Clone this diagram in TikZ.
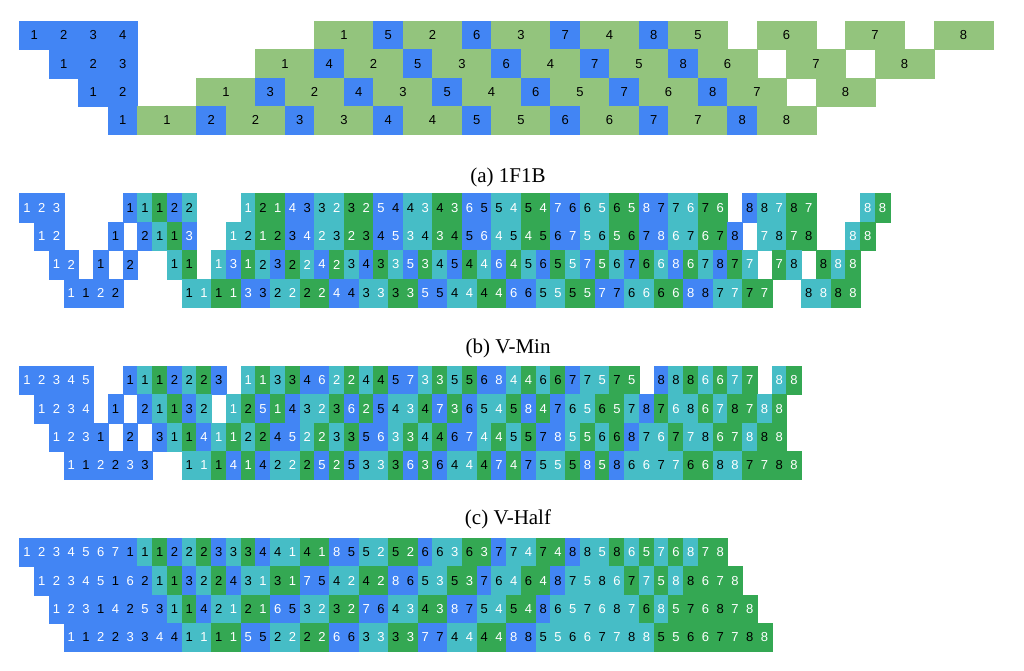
\documentclass[tikz,border=0pt]{standalone}
\usepackage{fontspec}
\setmainfont{Liberation Serif}
\setsansfont{Liberation Sans}
\usepackage{tikz}

\definecolor{fwdblue}{HTML}{4285F4}
\definecolor{bwdcyan}{HTML}{46BDC6}
\definecolor{wgtgreen}{HTML}{34A853}
\definecolor{lightgreen}{HTML}{93C47D}
\newcommand*{\gapcell}{-}

\begin{document}
\begin{tikzpicture}[x=1pt,y=-1pt]
  \tikzset{op/.style={anchor=north west, minimum height=28.4pt, inner sep=0pt, outer sep=0pt,
      line width=0.3pt, font=\sffamily\fontsize{13}{13}\selectfont}}
  \tikzset{onefF/.style={op, minimum width=29.5pt, fill=fwdblue, draw=fwdblue},
    onefB/.style={op, minimum width=59pt, fill=lightgreen, draw=lightgreen}}
  \tikzset{opF/.style={minimum width=14.75pt, fill=fwdblue, draw=fwdblue},
    opB/.style={minimum width=14.75pt, fill=bwdcyan, draw=bwdcyan},
    opW/.style={minimum width=14.75pt, fill=wgtgreen, draw=wgtgreen},
    txtw/.style={text=white}, txtk/.style={text=black}}
  \tikzset{caption/.style={font=\fontsize{21}{21}\selectfont}}
  \useasboundingbox (0,0) rectangle (1024,670);
  %1F1B
  \foreach \r/\row in {
      0/{0/F/1,1/F/2,2/F/3,3/F/4,10/B/1,12/F/5,13/B/2,15/F/6,16/B/3,18/F/7,19/B/4,21/F/8,22/B/5,25/B/6,28/B/7,31/B/8},
      1/{1/F/1,2/F/2,3/F/3,8/B/1,10/F/4,11/B/2,13/F/5,14/B/3,16/F/6,17/B/4,19/F/7,20/B/5,22/F/8,23/B/6,26/B/7,29/B/8},
      2/{2/F/1,3/F/2,6/B/1,8/F/3,9/B/2,11/F/4,12/B/3,14/F/5,15/B/4,17/F/6,18/B/5,20/F/7,21/B/6,23/F/8,24/B/7,27/B/8},
      3/{3/F/1,4/B/1,6/F/2,7/B/2,9/F/3,10/B/3,12/F/4,13/B/4,15/F/5,16/B/5,18/F/6,19/B/6,21/F/7,22/B/7,24/F/8,25/B/8}}
    \foreach \pos/\kind/\mb [count=\idx] in \row
      \node[onef\kind] (ofob\r-\idx) at ({19.5+\pos*29.5}, {21+\r*28.4}) {\mb};
  \node[caption] (capa) at (508,177) {(a) 1F1B};
  %V-Min
  \foreach \r/\row in {
      0/{F/1/w,F/2/w,F/3/w,-/-/-,-/-/-,-/-/-,-/-/-,F/1/k,B/1/k,W/1/k,F/2/k,B/2/k,-/-/-,-/-/-,-/-/-,B/1/w,W/2/k,W/1/w,F/4/w,F/3/k,B/3/k,B/2/w,W/3/k,W/2/w,F/5/w,F/4/k,B/4/k,B/3/w,W/4/k,W/3/w,F/6/w,F/5/k,B/5/k,B/4/w,W/5/k,W/4/w,F/7/w,F/6/k,B/6/k,B/5/w,W/6/k,W/5/w,F/8/w,F/7/k,B/7/k,B/6/w,W/7/k,W/6/w,-/-/-,F/8/k,B/8/k,B/7/w,W/8/k,W/7/w,-/-/-,-/-/-,-/-/-,B/8/w,W/8/w},
      1/{F/1/w,F/2/w,-/-/-,-/-/-,-/-/-,F/1/k,-/-/-,F/2/k,B/1/k,W/1/k,F/3/w,-/-/-,-/-/-,B/1/w,B/2/k,W/1/w,W/2/k,F/3/k,F/4/w,B/2/w,B/3/k,W/2/w,W/3/k,F/4/k,F/5/w,B/3/w,B/4/k,W/3/w,W/4/k,F/5/k,F/6/w,B/4/w,B/5/k,W/4/w,W/5/k,F/6/k,F/7/w,B/5/w,B/6/k,W/5/w,W/6/k,F/7/k,F/8/w,B/6/w,B/7/k,W/6/w,W/7/k,F/8/k,-/-/-,B/7/w,B/8/k,W/7/w,W/8/k,-/-/-,-/-/-,B/8/w,W/8/w},
      2/{F/1/w,F/2/w,-/-/-,F/1/k,-/-/-,F/2/k,-/-/-,-/-/-,B/1/k,W/1/k,-/-/-,B/1/w,F/3/w,W/1/w,B/2/k,F/3/k,W/2/k,B/2/w,F/4/w,W/2/w,B/3/k,F/4/k,W/3/k,B/3/w,F/5/w,W/3/w,B/4/k,F/5/k,W/4/k,B/4/w,F/6/w,W/4/w,B/5/k,F/6/k,W/5/k,B/5/w,F/7/w,W/5/w,B/6/k,F/7/k,W/6/k,B/6/w,F/8/w,W/6/w,B/7/k,F/8/k,W/7/k,B/7/w,-/-/-,W/7/w,B/8/k,-/-/-,W/8/k,B/8/w,W/8/w},
      3/{F/1/w,F/1/k,F/2/w,F/2/k,-/-/-,-/-/-,-/-/-,-/-/-,B/1/k,B/1/w,W/1/k,W/1/w,F/3/w,F/3/k,B/2/k,B/2/w,W/2/k,W/2/w,F/4/w,F/4/k,B/3/k,B/3/w,W/3/k,W/3/w,F/5/w,F/5/k,B/4/k,B/4/w,W/4/k,W/4/w,F/6/w,F/6/k,B/5/k,B/5/w,W/5/k,W/5/w,F/7/w,F/7/k,B/6/k,B/6/w,W/6/k,W/6/w,F/8/w,F/8/k,B/7/k,B/7/w,W/7/k,W/7/w,-/-/-,-/-/-,B/8/k,B/8/w,W/8/k,W/8/w}}
    \foreach \kind/\mb/\ch [count=\idx] in \row {
      \edef\celltype{\kind}
      \ifx\celltype\gapcell\else
        \node[op, op\kind, txt\ch] (vmin\r-\idx) at ({19.5+(\r+\idx-1)*14.75}, {193.5+\r*28.4}) {\mb};
      \fi
    }
  \node[caption] (capb) at (508,348) {(b) V-Min};
  %V-Half
  \foreach \r/\row in {
      0/{F/1/w,F/2/w,F/3/w,F/4/w,F/5/w,-/-/-,-/-/-,F/1/k,B/1/k,W/1/k,F/2/k,B/2/k,W/2/k,F/3/k,-/-/-,B/1/w,W/1/w,B/3/k,W/3/k,F/4/k,F/6/w,B/2/w,W/2/w,B/4/k,W/4/k,F/5/k,F/7/w,B/3/w,W/3/w,B/5/k,W/5/k,F/6/k,F/8/w,B/4/w,W/4/w,B/6/k,W/6/k,F/7/k,B/7/k,B/5/w,W/7/k,W/5/w,-/-/-,F/8/k,B/8/k,W/8/k,B/6/w,W/6/w,B/7/w,W/7/w,-/-/-,B/8/w,W/8/w},
      1/{F/1/w,F/2/w,F/3/w,F/4/w,-/-/-,F/1/k,-/-/-,F/2/k,B/1/k,W/1/k,F/3/k,B/2/k,-/-/-,B/1/w,W/2/k,F/5/w,W/1/w,F/4/k,B/3/k,B/2/w,W/3/k,F/6/w,W/2/w,F/5/k,B/4/k,B/3/w,W/4/k,F/7/w,W/3/w,F/6/k,B/5/k,B/4/w,W/5/k,F/8/w,W/4/w,F/7/k,B/6/k,B/5/w,W/6/k,W/5/w,B/7/k,F/8/k,W/7/k,B/6/w,B/8/k,W/6/w,B/7/w,W/8/k,W/7/w,B/8/w,W/8/w},
      2/{F/1/w,F/2/w,F/3/w,F/1/k,-/-/-,F/2/k,-/-/-,F/3/k,B/1/k,W/1/k,F/4/w,B/1/w,W/1/w,B/2/k,W/2/k,F/4/k,F/5/w,B/2/w,W/2/w,B/3/k,W/3/k,F/5/k,F/6/w,B/3/w,W/3/w,B/4/k,W/4/k,F/6/k,F/7/w,B/4/w,W/4/w,B/5/k,W/5/k,F/7/k,F/8/w,B/5/w,W/5/w,B/6/k,W/6/k,F/8/k,B/7/k,B/6/w,W/7/k,B/7/w,B/8/k,W/6/w,W/7/w,B/8/w,W/8/k,W/8/w},
      3/{F/1/w,F/1/k,F/2/w,F/2/k,F/3/w,F/3/k,-/-/-,-/-/-,B/1/k,B/1/w,W/1/k,F/4/w,W/1/w,F/4/k,B/2/k,B/2/w,W/2/k,F/5/w,W/2/w,F/5/k,B/3/k,B/3/w,W/3/k,F/6/w,W/3/w,F/6/k,B/4/k,B/4/w,W/4/k,F/7/w,W/4/w,F/7/k,B/5/k,B/5/w,W/5/k,F/8/w,W/5/w,F/8/k,B/6/k,B/6/w,B/7/k,B/7/w,W/6/k,W/6/w,B/8/k,B/8/w,W/7/k,W/7/w,W/8/k,W/8/w}}
    \foreach \kind/\mb/\ch [count=\idx] in \row {
      \edef\celltype{\kind}
      \ifx\celltype\gapcell\else
        \node[op, op\kind, txt\ch] (vhalf\r-\idx) at ({19.5+(\r+\idx-1)*14.75}, {366+\r*28.4}) {\mb};
      \fi
    }
  \node[caption] (capc) at (508,519) {(c) V-Half};
  %V-ZB
  \foreach \r/\row in {
      0/{F/1/w,F/2/w,F/3/w,F/4/w,F/5/w,F/6/w,F/7/w,F/1/k,B/1/k,W/1/k,F/2/k,B/2/k,W/2/k,F/3/k,B/3/k,W/3/k,F/4/k,B/4/k,B/1/w,W/4/k,W/1/w,F/8/w,F/5/k,B/5/k,B/2/w,W/5/k,W/2/w,F/6/k,B/6/k,B/3/w,W/6/k,W/3/w,F/7/k,B/7/k,B/4/w,W/7/k,W/4/w,F/8/k,B/8/k,B/5/w,W/8/k,B/6/w,W/5/w,B/7/w,W/6/w,B/8/w,W/7/w,W/8/w},
      1/{F/1/w,F/2/w,F/3/w,F/4/w,F/5/w,F/1/k,F/6/w,F/2/k,B/1/k,W/1/k,F/3/k,B/2/k,W/2/k,F/4/k,B/3/k,B/1/w,W/3/k,W/1/w,F/7/w,F/5/k,B/4/k,B/2/w,W/4/k,W/2/w,F/8/w,F/6/k,B/5/k,B/3/w,W/5/k,W/3/w,F/7/k,B/6/k,B/4/w,W/6/k,W/4/w,F/8/k,B/7/k,B/5/w,B/8/k,B/6/w,W/7/k,B/7/w,W/5/w,B/8/w,W/8/k,W/6/w,W/7/w,W/8/w},
      2/{F/1/w,F/2/w,F/3/w,F/1/k,F/4/w,F/2/k,F/5/w,F/3/k,B/1/k,W/1/k,F/4/k,B/2/k,B/1/w,W/2/k,W/1/w,F/6/w,F/5/k,B/3/k,B/2/w,W/3/k,W/2/w,F/7/w,F/6/k,B/4/k,B/3/w,W/4/k,W/3/w,F/8/w,F/7/k,B/5/k,B/4/w,W/5/k,W/4/w,F/8/k,B/6/k,B/5/w,B/7/k,B/6/w,B/8/k,B/7/w,W/6/k,B/8/w,W/5/w,W/7/k,W/6/w,W/8/k,W/7/w,W/8/w},
      3/{F/1/w,F/1/k,F/2/w,F/2/k,F/3/w,F/3/k,F/4/w,F/4/k,B/1/k,B/1/w,W/1/k,W/1/w,F/5/w,F/5/k,B/2/k,B/2/w,W/2/k,W/2/w,F/6/w,F/6/k,B/3/k,B/3/w,W/3/k,W/3/w,F/7/w,F/7/k,B/4/k,B/4/w,W/4/k,W/4/w,F/8/w,F/8/k,B/5/k,B/5/w,B/6/k,B/6/w,B/7/k,B/7/w,B/8/k,B/8/w,W/5/k,W/5/w,W/6/k,W/6/w,W/7/k,W/7/w,W/8/k,W/8/w}}
    \foreach \kind/\mb/\ch [count=\idx] in \row {
      \edef\celltype{\kind}
      \ifx\celltype\gapcell\else
        \node[op, op\kind, txt\ch] (vzb\r-\idx) at ({19.5+(\r+\idx-1)*14.75}, {538+\r*28.4}) {\mb};
      \fi
    }
\end{tikzpicture}
\end{document}
